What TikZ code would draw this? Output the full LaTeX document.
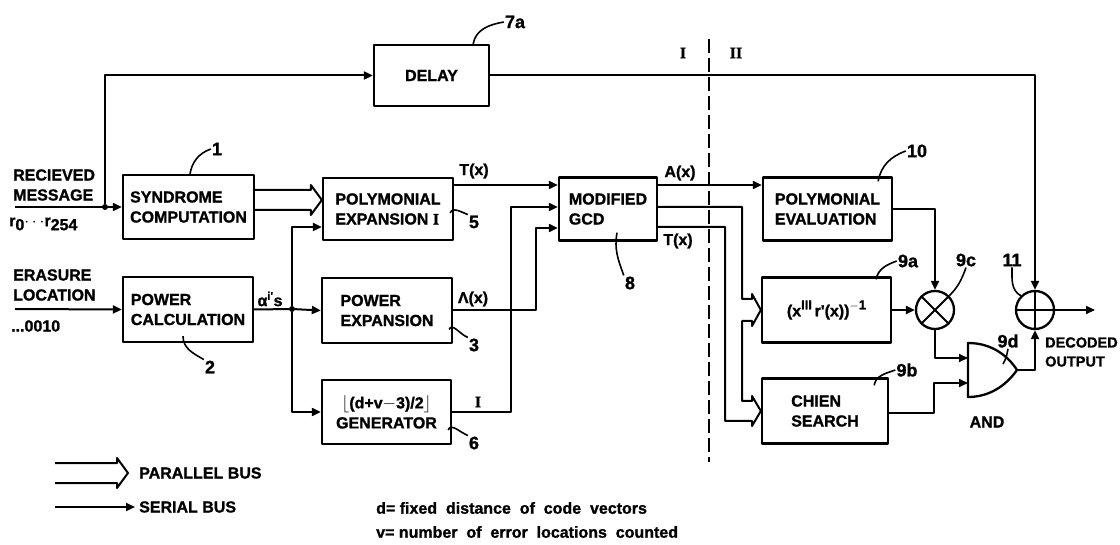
\documentclass[tikz,border=0pt]{standalone}
\usepackage{fontspec}
\setmainfont{Liberation Sans}[BoldFeatures={FakeBold=1.2}]
\newfontfamily\romfont{Liberation Serif}[BoldFeatures={FakeBold=1.2}]
\usetikzlibrary{arrows.meta,calc}
\tikzset{
	blk/.style={draw, line width=2.3pt, inner sep=0pt, align=left},
	wire/.style={line width=2pt},
	bus/.style={line width=2pt},
	lead/.style={line width=1.6pt},
	num/.style={inner sep=1pt, font=\bfseries\fontsize{18}{18}\selectfont},
	txt/.style={inner sep=1pt, align=left},
	jdot/.style={circle, fill, inner sep=0pt, minimum size=6pt},
}
\newcommand{\pbus}[3]{\draw[bus] let \p1=#1, \p2=#2 in (\x1,\y2+#3) -- (\x2-11pt,\y2+#3) -- (\x2-11pt,\y2+#3+5pt) -- (\p2) -- (\x2-11pt,\y2-#3-5pt) -- (\x2-11pt,\y2-#3) -- (\x1,\y2-#3);}
\newcommand{\supr}[1]{\raisebox{7pt}{\fontsize{13}{13}\selectfont #1}}
\begin{document}
\begin{tikzpicture}[x=1pt,y=-1pt,>={Triangle[length=9pt,width=8pt]},line join=round,font=\bfseries\fontsize{16}{20}\selectfont]
	\useasboundingbox (0,0) rectangle (1120,545);
	\node[blk,minimum width=131,minimum height=64] (synd) at (188.5,207) {SYNDROME\\COMPUTATION};
	\node[blk,minimum width=130,minimum height=62] (polyexp) at (388,209) {POLYMONIAL\\EXPANSION {\romfont I}};
	\node[blk,minimum width=115,minimum height=61] (delay) at (431.5,75.5) {DELAY};
	\node[blk,minimum width=98,minimum height=63] (gcd) at (608,209) {MODIFIED\\GCD};
	\node[blk,minimum width=130,minimum height=65] (powcalc) at (188,309.5) {POWER\\CALCULATION};
	\node[blk,minimum width=130,minimum height=65] (powexp) at (387,310.5) {POWER\\EXPANSION};
	\node[blk,align=center,minimum width=129,minimum height=64] (gen) at (386.5,412) {$\lfloor$(d+v$-$3)/2$\rfloor$\\GENERATOR};
	\node[blk,minimum width=129,minimum height=63] (polyeval) at (827.5,209) {POLYMONIAL\\EVALUATION};
	\node[blk,minimum width=129,minimum height=65] (inv) at (826.5,310) {(x\supr{III}\,r\textquotesingle(x))\supr{$-$1}};
	\node[blk,minimum width=126,minimum height=65] (chien) at (825,411) {CHIEN\\SEARCH};
	\node[draw,circle,line width=2.3pt,minimum size=38] (mult) at (935,310) {};
	\node[draw,circle,line width=2.3pt,minimum size=38] (adder) at (1035,310) {};
	\draw[line width=1.8pt] (mult.north east)--(mult.south west) (mult.north west)--(mult.south east);
	\draw[line width=1.8pt] (adder.north)--(adder.south) (adder.west)--(adder.east);
	\coordinate (andin1) at (968,358);
	\coordinate (andin2) at (968,383);
	\coordinate (andout) at (1017,370);
	\draw[line width=2.3pt] (968,343) .. controls (992,343) and (1008,356) .. (andout) .. controls (1005,387) and (988,397) .. (968,397) -- cycle;
	\coordinate (rin) at (15,207);
	\coordinate (ein) at (15,309);
	\node[jdot] (jr) at (105,207) {};
	\node[jdot] (ja) at (292,309) {};
	\coordinate (dout) at (1095,310);
	\draw[wire,->] (rin) -- (synd.west);
	\draw[wire,->] (jr) |- (delay.west);
	\draw[wire,->] (delay.east) -| (adder.north);
	\pbus{(synd.east)}{([yshift=9pt]polyexp.west)}{10pt}
	\draw[wire,->] (ein) -- (powcalc.west);
	\draw[wire,->] (powcalc.east) -- (ja) -- (powexp.west);
	\draw[wire,->] (ja) |- ([yshift=-18pt]polyexp.west);
	\draw[wire,->] (ja) |- (gen.west);
	\draw[wire,->] ([yshift=24pt]polyexp.east) -- ([yshift=24pt]gcd.west);
	\draw[wire,->] (gen.east) -- ++(59,0) |- ([yshift=2pt]gcd.west);
	\draw[wire,->] (powexp.east) -- ++(83,0) |- ([yshift=-19pt]gcd.west);
	\draw[wire,->] ([yshift=24pt]gcd.east) -- ([yshift=24pt]polyeval.west);
	\draw[bus] ([yshift=2pt]gcd.east) -| (742,299) -- (752,299) -- (752,294) -- (inv.west) -- (752,326) -- (752,321) -- (742,321) |- (752,401) -- (752,396) -- (chien.west) -- (752,426) -- (752,421) -- (725,421) |- ([yshift=-18pt]gcd.east);
	\draw[wire,->] (polyeval.east) -| (mult.north);
	\draw[wire,->] (inv.east) -- (mult.west);
	\draw[wire,->] (mult.south) |- (andin1);
	\draw[wire,->] ([yshift=-2pt]chien.east) -- ++(45,0) |- (andin2);
	\draw[wire,->] (andout) -| (adder.south);
	\draw[wire,->] (adder.east) -- (dout);
	\draw[line width=2pt,dash pattern=on 14pt off 5pt] (709,39) -- (709,462);
	\node[txt,right] at (12,185) {RECIEVED\\MESSAGE};
	\node[txt,right] at (8,224) {r\raisebox{-4pt}{0}$\cdots$r\raisebox{-4pt}{254}};
	\node[txt,right] at (12,285) {ERASURE\\LOCATION};
	\node[txt,right] at (10,326) {...0010};
	\node at (270,299) {α\textsuperscript{i\textquotesingle}s};
	\node at (474,171) {T(x)};
	\node at (473,299) {Λ(x)};
	\node at (478,402) {\romfont I};
	\node at (680,173) {A(x)};
	\node at (678,241) {T(x)};
	\node at (683,53) {\romfont I};
	\node at (736,53) {\romfont II};
	\node at (987,422) {AND};
	\node[txt,right,font=\bfseries\fontsize{14.5}{19}\selectfont] at (1044,352) {DECODED\\OUTPUT};
	\node[num] (n1) at (217,149) {1};
	\node[num] (n7a) at (515,22) {7a};
	\node[num] (n5) at (474,222) {5};
	\node[num] (n2) at (210,367) {2};
	\node[num] (n3) at (474,345) {3};
	\node[num] (n6) at (474,443) {6};
	\node[num] (n8) at (630,283) {8};
	\node[num] (n10) at (917,151) {10};
	\node[num] (n9a) at (908,261) {9a};
	\node[num] (n9b) at (907,370) {9b};
	\node[num] (n9c) at (966,260) {9c};
	\node[num] (n11) at (1012,260) {11};
	\node[num] (n9d) at (1008,341) {9d};
	\draw[lead] ([xshift=1.5pt]synd.north) to[out=80,in=200] (n1.west);
	\draw[lead] ([xshift=-17pt]delay.north east) to[out=80,in=190] (n7a.west);
	\draw[lead] ([xshift=-4pt,yshift=-4pt]polyexp.east) to[out=70,in=160] (n5.north west);
	\draw[lead] ([xshift=-4pt,yshift=-19pt]powexp.east) to[out=70,in=160] (n3.north west);
	\draw[lead] ([xshift=-4pt,yshift=-18pt]gen.east) to[out=70,in=160] (n6.north west);
	\draw[lead] ([xshift=-5pt,yshift=7pt]powcalc.south) to[out=-90,in=150] (n2.north west);
	\draw[lead] ([xshift=9pt,yshift=9pt]gcd.south) to[out=-100,in=110] (n8.north west);
	\draw[lead] ([xshift=-15pt,yshift=-5pt]polyeval.north east) to[out=80,in=200] (n10.west);
	\draw[lead] ([xshift=-16pt,yshift=-3pt]inv.north east) to[out=80,in=200] (n9a.west);
	\draw[lead] ([xshift=-15pt,yshift=-8pt]chien.north east) to[out=80,in=200] (n9b.west);
	\draw[lead] (mult.north east) to[out=45,in=-110] (n9c.south);
	\draw[lead] (n11.south) to[out=-90,in=150] (adder.north west);
	\draw[lead] (n9d.south) to[out=-100,in=60] (1003,364);
	\pbus{(55,0)}{(128,473)}{10pt}
	\draw[wire,->] (55,507) -- (135,507);
	\node[txt,right] at (138,473) {PARALLEL BUS};
	\node[txt,right] at (138,507) {SERIAL BUS};
	\node[txt,right] at (375,508) {d= fixed\ \ distance\ \ of\ \ code\ \ vectors};
	\node[txt,right] at (375,532) {v= number\ \ of\ \ error\ \ locations\ \ counted};
\end{tikzpicture}
\end{document}
